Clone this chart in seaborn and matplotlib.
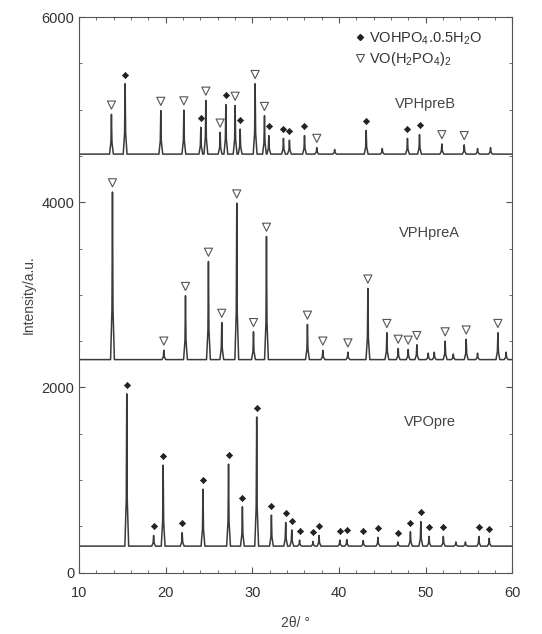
import numpy as np
import pandas as pd
import matplotlib
matplotlib.use("Agg")
import matplotlib.pyplot as plt
import seaborn as sns
from matplotlib.lines import Line2D

# peak lists: (2theta, intensity, phase) ; D = VOHPO4.0.5H2O, V = VO(H2PO4)2
vpo_base = 285
vpo_pos = [15.5, 18.6, 19.7, 21.9, 24.3, 27.25, 28.85, 30.5, 32.2, 33.85, 34.55, 35.45,
           37.0, 37.7, 40.1, 40.9, 42.8, 44.5, 46.8, 48.25, 49.45, 50.4, 52.05, 53.5,
           54.6, 56.15, 57.35]
vpo_int = [1930, 400, 1160, 430, 900, 1170, 710, 1680, 620, 540, 460, 350,
           335, 400, 350, 355, 345, 380, 330, 440, 550, 390, 390, 330,
           330, 390, 370]
vpo_tag = ["D", "D", "D", "D", "D", "D", "D", "D", "D", "D", "D", "D",
           "D", "D", "D", "D", "D", "D", "D", "D", "D", "D", "D", "",
           "", "D", "D"]

prea_base = 2300
prea_pos = [13.85, 19.78, 22.28, 24.93, 26.47, 28.2, 30.13, 31.63, 36.36, 38.14, 41.03,
            43.34, 45.53, 46.84, 47.99, 48.99, 50.3, 51.0, 52.26, 53.2, 54.69, 56.0,
            58.35, 59.3]
prea_int = [4110, 2400, 2990, 3360, 2700, 3990, 2600, 3630, 2680, 2400, 2380,
            3070, 2590, 2420, 2410, 2460, 2370, 2380, 2500, 2360, 2520, 2370,
            2590, 2380]
prea_tag = ["V", "V", "V", "V", "V", "V", "V", "V", "V", "V", "V",
            "V", "V", "V", "V", "V", "", "", "V", "", "V", "",
            "V", ""]

preb_base = 4520
preb_pos = [13.73, 15.31, 19.43, 22.09, 24.05, 24.63, 26.28, 26.94, 28.01, 28.59, 30.32,
            31.4, 31.9, 33.59, 34.28, 36.02, 37.44, 39.5, 43.14, 45.0, 47.91, 49.3,
            51.88, 54.46, 56.0, 57.5]
preb_int = [4950, 5280, 4990, 4995, 4810, 5100, 4755, 5055, 5045, 4790, 5280,
            4935, 4720, 4690, 4670, 4720, 4590, 4570, 4775, 4580, 4690, 4730,
            4630, 4620, 4580, 4590]
preb_tag = ["V", "D", "V", "V", "D", "V", "V", "D", "V", "D", "V",
            "V", "D", "D", "D", "D", "V", "", "D", "", "D", "D",
            "V", "V", "", ""]

names = ["VPHpreB", "VPHpreA", "VPOpre"]
label_xy = [(46.5, 5060), (46.9, 3670), (47.5, 1625)]
legend_labels = [r"VOHPO$_4$.0.5H$_2$O", r"VO(H$_2$PO$_4$)$_2$"]


def pattern(base, pos, inten, hw=0.22):
    xs, ys = [10.0], [base]
    for p, h in zip(pos, inten):
        xs += [p - hw, p - 0.06, p, p + 0.06, p + hw]
        ys += [base, base + 0.3 * (h - base), h, base + 0.3 * (h - base), base]
    xs.append(60.0)
    ys.append(base)
    return pd.DataFrame({"two_theta": xs, "intensity": ys})


sns.set_style("ticks")
plt.rcParams["font.family"] = ["Liberation Sans", "DejaVu Sans"]
plt.rcParams["mathtext.default"] = "regular"

fig = plt.figure(figsize=(5.42, 6.34), dpi=100)
ax = fig.add_axes([0.146, 0.097, 0.799, 0.876])

line_col = "#3a3a3a"
off = 100
series = [(preb_base, preb_pos, preb_int, preb_tag),
          (prea_base, prea_pos, prea_int, prea_tag),
          (vpo_base, vpo_pos, vpo_int, vpo_tag)]

for (base, pos, inten, tag), name, (lx, ly) in zip(series, names, label_xy):
    df = pattern(base, pos, inten)
    sns.lineplot(data=df, x="two_theta", y="intensity", ax=ax, color=line_col,
                 lw=1.1, estimator=None, sort=False)
    pk = pd.DataFrame({"x": pos, "y": np.array(inten) + off, "tag": tag})
    d = pk[pk.tag == "D"]
    v = pk[pk.tag == "V"]
    if len(d):
        sns.scatterplot(data=d, x="x", y="y", ax=ax, marker="D", s=10,
                        color="#222222", edgecolor="#222222", linewidth=0.5)
    if len(v):
        sns.scatterplot(data=v, x="x", y="y", ax=ax, marker="v", s=34,
                        facecolor="none", edgecolor="#555555", linewidth=0.8)
    ax.text(lx, ly, name, fontsize=10.5, color="#444444", va="center", ha="left")

ax.set_xlim(10, 60)
ax.set_ylim(0, 6000)
ax.set_xticks([10, 20, 30, 40, 50, 60])
ax.set_xticks(np.arange(10, 61, 2), minor=True)
ax.set_yticks([0, 2000, 4000, 6000])
ax.set_yticks(np.arange(0, 6001, 500), minor=True)
ax.tick_params(which="both", direction="in", top=True, right=True,
               labelsize=10.5, labelcolor="#333333", color="#555555")
ax.tick_params(which="major", length=4)
ax.tick_params(which="minor", length=2.5)
ax.tick_params(axis="x", which="major", pad=10)
for s in ax.spines.values():
    s.set_color("#555555")
    s.set_linewidth(0.8)

ax.set_xlabel("2θ/ °", fontsize=10, color="#444444", labelpad=11)
ax.set_ylabel("Intensity/a.u.", fontsize=10, color="#444444", labelpad=4)

handles = [Line2D([], [], ls="none", marker="D", ms=3, color="#222222"),
           Line2D([], [], ls="none", marker="v", ms=6, mfc="none",
                  mec="#555555", mew=0.8)]
ax.legend(handles, legend_labels, loc="upper right", frameon=False, fontsize=10.5,
          handletextpad=0.1, handlelength=1.0, labelspacing=0.25,
          bbox_to_anchor=(0.96, 1.0), labelcolor="#333333")

fig.savefig("out.png", dpi=100)
